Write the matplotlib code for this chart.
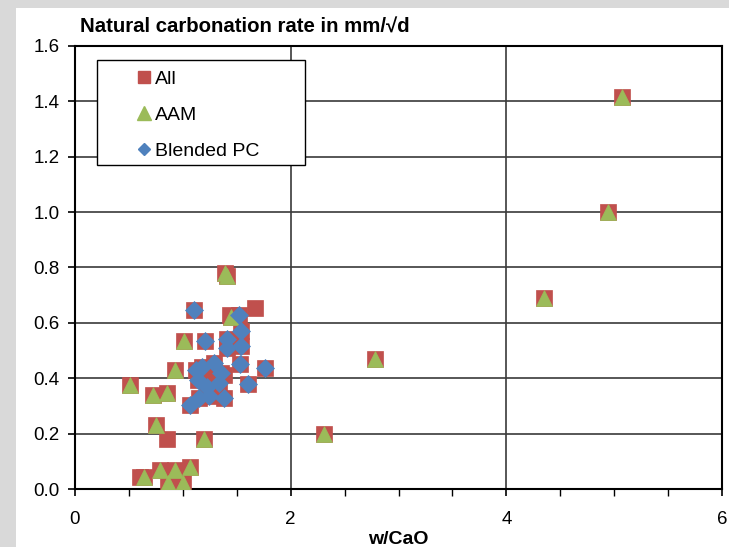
import matplotlib
matplotlib.use("Agg")
import matplotlib.pyplot as plt
from matplotlib.patches import Rectangle
from matplotlib.lines import Line2D
from matplotlib.ticker import MultipleLocator

plt.rcParams['font.family'] = ['Liberation Sans', 'DejaVu Sans']

# ---- data ----
aam_x = [0.51, 0.72, 0.85, 0.93, 1.01, 0.75, 1.20, 1.45, 1.39, 1.41,
         0.64, 0.79, 0.93, 1.07, 0.86, 1.00, 2.31, 2.78, 4.35, 4.94, 5.07]
aam_y = [0.377, 0.340, 0.347, 0.430, 0.534, 0.230, 0.180, 0.620, 0.780, 0.770,
         0.045, 0.070, 0.070, 0.078, 0.022, 0.022, 0.200, 0.470, 0.690, 1.000, 1.415]

bpc_x = [1.10, 1.21, 1.41, 1.54, 1.54, 1.41, 1.52, 1.53, 1.60, 1.76,
         1.12, 1.18, 1.29, 1.14, 1.34, 1.35, 1.07, 1.15, 1.24, 1.38, 1.22]
bpc_y = [0.648, 0.534, 0.540, 0.570, 0.515, 0.510, 0.630, 0.450, 0.380, 0.437,
         0.430, 0.440, 0.455, 0.395, 0.383, 0.420, 0.305, 0.330, 0.335, 0.330, 0.370]

other_x = [1.67, 0.85, 0.60, 1.28, 1.44, 1.38]
other_y = [0.655, 0.180, 0.045, 0.410, 0.630, 0.410]

all_x = other_x + aam_x + bpc_x
all_y = other_y + aam_y + bpc_y

legend_labels = ["All", "AAM", "Blended PC"]
x_ticks = [0, 2, 4, 6]
y_ticks = [0.0, 0.2, 0.4, 0.6, 0.8, 1.0, 1.2, 1.4, 1.6]

RED = "#C0504D"
GREEN = "#9BBB59"
BLUE = "#4F81BD"

W, H = 729, 547
fig = plt.figure(figsize=(W / 100, H / 100), dpi=100, facecolor="#D9D9D9")
fig.patches.append(Rectangle((16 / W, 0), 1 - 16 / W, (H - 8) / H,
                             transform=fig.transFigure, facecolor="white",
                             edgecolor="none", zorder=-5))

ax = fig.add_axes([75 / W, (H - 489) / H, (722 - 75) / W, (489 - 46) / H])
ax.set_zorder(1)
ax.set_facecolor("white")

ax.plot(all_x, all_y, linestyle="none", marker="s", ms=11.5, mfc=RED, mec=RED,
        mew=0.5, zorder=3)
ax.plot(aam_x, aam_y, linestyle="none", marker="^", ms=11.5, mfc=GREEN, mec=GREEN,
        mew=0.5, zorder=4)
ax.plot(bpc_x, bpc_y, linestyle="none", marker="D", ms=9.3, mfc=BLUE, mec=BLUE,
        mew=0.5, zorder=5)

ax.set_xlim(0, 6)
ax.set_ylim(0, 1.6)
ax.set_xticks(x_ticks)
ax.set_yticks(y_ticks)
ax.set_yticklabels([f"{v:.1f}" for v in y_ticks])
ax.xaxis.set_minor_locator(MultipleLocator(0.5))
ax.tick_params(axis="both", which="major", direction="out", length=5, width=1.2,
               labelsize=13.5, colors="black", pad=6)
ax.tick_params(axis="x", which="major", pad=11)
ax.tick_params(axis="x", which="minor", direction="out", length=5, width=1.0)
ax.grid(True, which="major", color="#3a3a3a", linewidth=1.2, zorder=1)
ax.set_axisbelow(True)
for s in ax.spines.values():
    s.set_linewidth(1.5)
    s.set_color("black")

ax.set_xlabel("w/CaO", fontsize=14, fontweight="bold", labelpad=2)
fig.text(80 / W, 1 - 27 / H, "Natural carbonation rate in mm/\u221ad",
         fontsize=14.7, fontweight="bold", ha="left", va="center")

# legend frame
x0, x1 = 97, 305
y0, y1 = 60, 165
frame = Rectangle((x0 / W, 1 - y1 / H), (x1 - x0) / W, (y1 - y0) / H,
                  transform=fig.transFigure, facecolor="white", edgecolor="black",
                  linewidth=1.0, zorder=6)
fig.patches.append(frame)
handles = [
    Line2D([], [], linestyle="none", marker="s", ms=8.5, mfc=RED, mec=RED),
    Line2D([], [], linestyle="none", marker="^", ms=9.5, mfc=GREEN, mec=GREEN),
    Line2D([], [], linestyle="none", marker="D", ms=6.5, mfc=BLUE, mec=BLUE),
]
leg = fig.legend(handles, legend_labels, loc="upper left",
                 bbox_to_anchor=(134 / W, 1 - 70 / H), frameon=False,
                 fontsize=14, handlelength=1.0, handletextpad=0.1,
                 labelspacing=0.95, borderpad=0.0, borderaxespad=0.0)
leg.set_zorder(7)

fig.savefig("out.png", dpi=100, facecolor=fig.get_facecolor())
